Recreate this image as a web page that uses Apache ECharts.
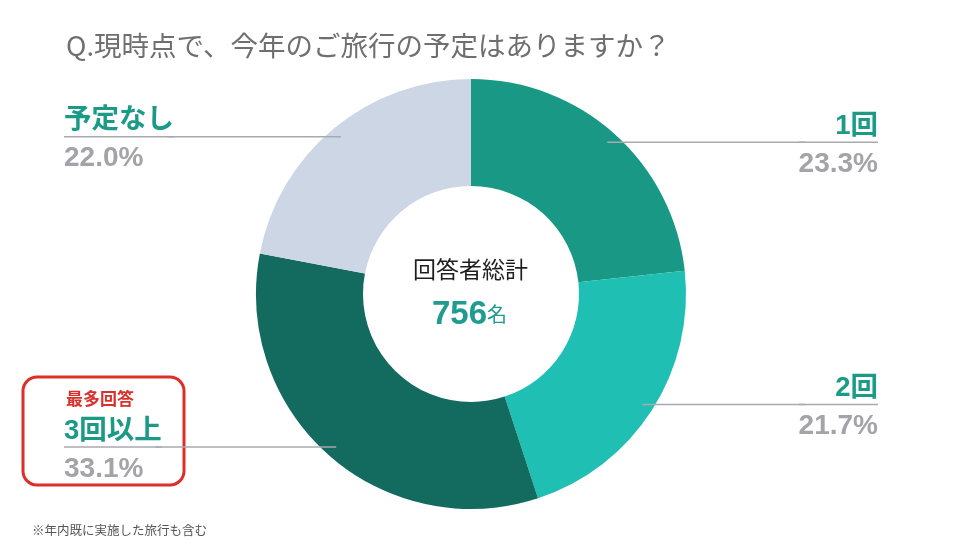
<!DOCTYPE html>
<html>
<head>
<meta charset="utf-8">
<script src="https://cdn.jsdelivr.net/npm/echarts@6/dist/echarts.min.js"></script>
<style>
html,body{margin:0;padding:0;background:#fff;}
#chart{width:960px;height:540px;}
</style>
</head>
<body>
<div id="chart"></div>
<script>
// ---- data ----
const categories = ['1回', '2回', '3回以上', '予定なし'];
const values = [23.3, 21.7, 33.1, 22.0];
const colors = ['#189885', '#20bfb3', '#136b5f', '#cdd6e4'];
const titleText = 'Q.現時点で、今年のご旅行の予定はありますか？';
const centerLabel = '回答者総計';
const totalRespondents = 756;
const totalUnit = '名';
const footnote = '※年内既に実施した旅行も含む';
const highlightText = '最多回答';

const FONT = "'Liberation Sans', 'Noto Sans CJK JP', sans-serif";
const JP = "'Noto Sans CJK JP', sans-serif";
const CX = 471, CY = 294;

const rightSide = [true, true, false, false];

const pieData = categories.map((c, i) => ({
  name: c,
  value: values[i],
  itemStyle: { color: colors[i] }
}));

const labelData = categories.map((c, i) => ({
  name: c,
  value: values[i],
  label: { edgeDistance: rightSide[i] ? 82 : 64 }
}));

const chart = echarts.init(document.getElementById('chart'));
chart.setOption({
  backgroundColor: '#ffffff',
  animation: false,
  title: {
    text: titleText,
    left: 61,
    top: 27,
    textStyle: { fontFamily: JP, fontSize: 27.5, fontWeight: 'normal', color: '#6f6f6f' }
  },
  series: [
    {
      type: 'pie',
      center: [CX, CY],
      radius: [108, 215],
      startAngle: 90,
      clockwise: true,
      silent: true,
      label: { show: false },
      labelLine: { show: false },
      data: pieData,
      z: 1
    },
    {
      type: 'pie',
      center: [CX, CY],
      radius: [0, 204],
      startAngle: 90,
      clockwise: true,
      silent: true,
      avoidLabelOverlap: true,
      itemStyle: { color: 'rgba(0,0,0,0)' },
      label: {
        show: true,
        position: 'outside',
        alignTo: 'edge',
        distanceToLabelLine: -8,
        formatter: function (p) {
          return '{sp|}\n{name|' + p.name + '}\n{hr|}\n{val|' + p.value.toFixed(1) + '%}';
        },
        rich: {
          sp: { lineHeight: 12, height: 0 },
          name: { fontFamily: FONT, fontSize: 27.5, fontWeight: 'bold', color: '#1b9a86', lineHeight: 30 },
          hr: { borderColor: '#a9a9b0', borderWidth: 1.5, width: '100%', height: 0, lineHeight: 2 },
          val: { fontFamily: FONT, fontSize: 28, fontWeight: 'bold', color: '#a3a3a8', lineHeight: 42 }
        }
      },
      labelLine: {
        show: true,
        length: 0,
        length2: 10,
        smooth: false,
        lineStyle: { color: '#a9a9b0', width: 1.5 }
      },
      data: labelData,
      z: 2
    }
  ],
  graphic: [
    {
      type: 'text',
      left: 413,
      top: 258,
      style: { text: centerLabel, fontFamily: JP, fontSize: 23, fill: '#1e1e1e' }
    },
    {
      type: 'text',
      left: 432,
      top: 298,
      style: {
        text: '{n|' + totalRespondents + '}{u|' + totalUnit + '}',
        rich: {
          n: { fontFamily: FONT, fontSize: 33, fontWeight: 'bold', fill: '#1f9b8f', verticalAlign: 'bottom' },
          u: { fontFamily: JP, fontSize: 20, fill: '#1f9b8f', verticalAlign: 'bottom', padding: [0, 0, 7, 0] }
        }
      }
    },
    {
      type: 'rect',
      shape: { x: 23, y: 377, width: 161, height: 108, r: 14 },
      style: { fill: 'none', stroke: '#dd2f28', lineWidth: 3 }
    },
    {
      type: 'text',
      left: 66,
      top: 390,
      style: { text: highlightText, fontFamily: JP, fontSize: 17, fontWeight: 'bold', fill: '#d9302a' }
    },
    {
      type: 'text',
      left: 32,
      top: 524,
      style: { text: footnote, fontFamily: JP, fontSize: 12.5, fill: '#555555' }
    }
  ]
});
</script>
</body>
</html>
